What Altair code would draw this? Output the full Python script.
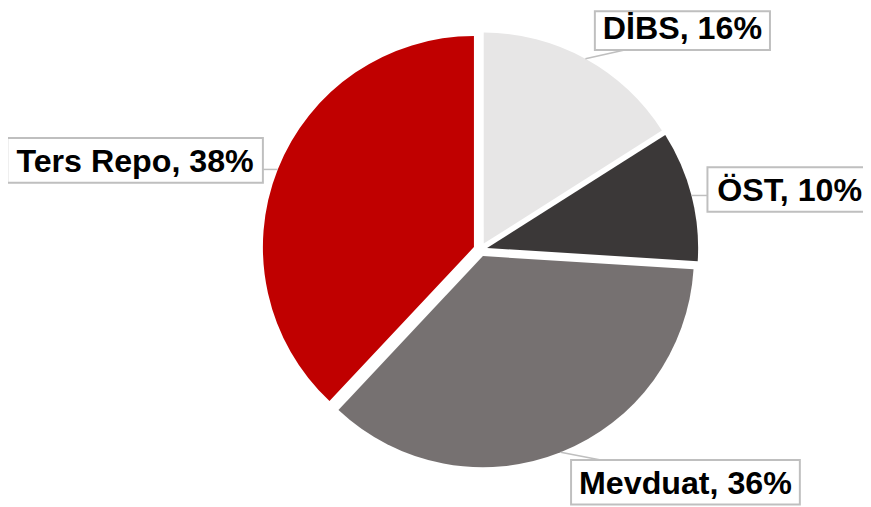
import math
import altair as alt
import pandas as pd

# ---- data ----
categories = ["DİBS", "ÖST", "Mevduat", "Ters Repo"]
shares = [16, 10, 36, 38]
colors = ["#E7E6E6", "#3B3838", "#767171", "#C00000"]

# ---- layout / style ----
W, H = 863, 499          # view size (page is offset by 8px margin)
CX, CY = 476.8, 241.6    # pie centre in view pixels
R = 213                  # pie radius
EXPLODE = 7              # slice explode distance
FONT = "Liberation Sans"
FS = 32.5
BOX_H = 45
PAD = 8
label_dist = {"DİBS": 303, "ÖST": 318, "Mevduat": 313, "Ters Repo": 360}
label_shift = {"DİBS": 13.5, "ÖST": 3.4, "Mevduat": -19.8, "Ters Repo": -7.1}

# Arial/Liberation Sans Bold advance widths (em)
GW = {"T": .611, "e": .556, "r": .389, "s": .556, " ": .278, "R": .722, "p": .611,
      "o": .611, ",": .278, "3": .556, "8": .556, "%": .889, "D": .722, "İ": .278,
      "B": .722, "S": .667, "1": .556, "6": .556, "Ö": .778, "0": .556, "M": .833,
      "v": .556, "d": .611, "u": .611, "a": .556, "t": .333}

rows = []
cum = 0
for cat, val, col in zip(categories, shares, colors):
    start, end = cum, cum + val
    cum = end
    mid = (start + end) / 2 / 100 * 2 * math.pi
    sx = CX + EXPLODE * math.sin(mid)
    sy = CY - EXPLODE * math.cos(mid)
    # label anchor
    la = mid + math.radians(label_shift[cat])
    tx = CX + label_dist[cat] * math.sin(la)
    ty = CY - label_dist[cat] * math.cos(la)
    label = f"{cat}, {val}%"
    w = sum(GW.get(c, 0.6) for c in label) * FS + 2 * PAD
    x0, x1 = tx - w / 2, tx + w / 2
    y0, y1 = ty - BOX_H / 2, ty + BOX_H / 2
    # leader line from slice edge to box
    ax = sx + R * math.sin(mid)
    ay = sy - R * math.cos(mid)
    ex = min(max(ax, x0), x1)
    ey = min(max(ay, y0), y1)
    if ex in (x0, x1) and ey in (y0, y1):
        ex = ex + 30 if ex == x0 else ex - 30
    rows.append(dict(cat=cat, value=val, color=col, start=start, end=end,
                     sx=sx, sy=sy, label=label, tx=tx, ty=ty + 0.358 * FS,
                     bx0=x0, bx1=x1, by0=max(y0, 1), by1=y1,
                     ax=ax, ay=ay, ex=ex, ey=ey))

df = pd.DataFrame(rows)
base = alt.Chart(df)

arcs = base.mark_arc(radius=R).encode(
    theta=alt.Theta("start:Q", scale=alt.Scale(domain=[0, 100], range=[0, 2 * math.pi]), stack=None),
    theta2="end:Q",
    x=alt.X("sx:Q", scale=None, axis=None),
    y=alt.Y("sy:Q", scale=None, axis=None),
    color=alt.Color("color:N", scale=None),
)

leaders = base.mark_rule(color="#BFBFBF", strokeWidth=1.5).encode(
    x=alt.X("ax:Q", scale=None, axis=None),
    y=alt.Y("ay:Q", scale=None, axis=None),
    x2="ex:Q",
    y2="ey:Q",
)

boxes = base.mark_rect(fill="white", stroke="#BFBFBF", strokeWidth=2).encode(
    x=alt.X("bx0:Q", scale=None, axis=None),
    x2="bx1:Q",
    y=alt.Y("by0:Q", scale=None, axis=None),
    y2="by1:Q",
)

texts = base.mark_text(font=FONT, fontSize=FS, fontWeight="bold", color="black",
                       align="center", baseline="alphabetic").encode(
    x=alt.X("tx:Q", scale=None, axis=None),
    y=alt.Y("ty:Q", scale=None, axis=None),
    text="label:N",
)

chart = alt.layer(arcs, leaders, boxes, texts).properties(
    width=W, height=H, autosize="none", padding=0, background="white"
).configure_view(stroke=None)

chart.save("out.html", embed_options={"renderer": "svg", "actions": False})
